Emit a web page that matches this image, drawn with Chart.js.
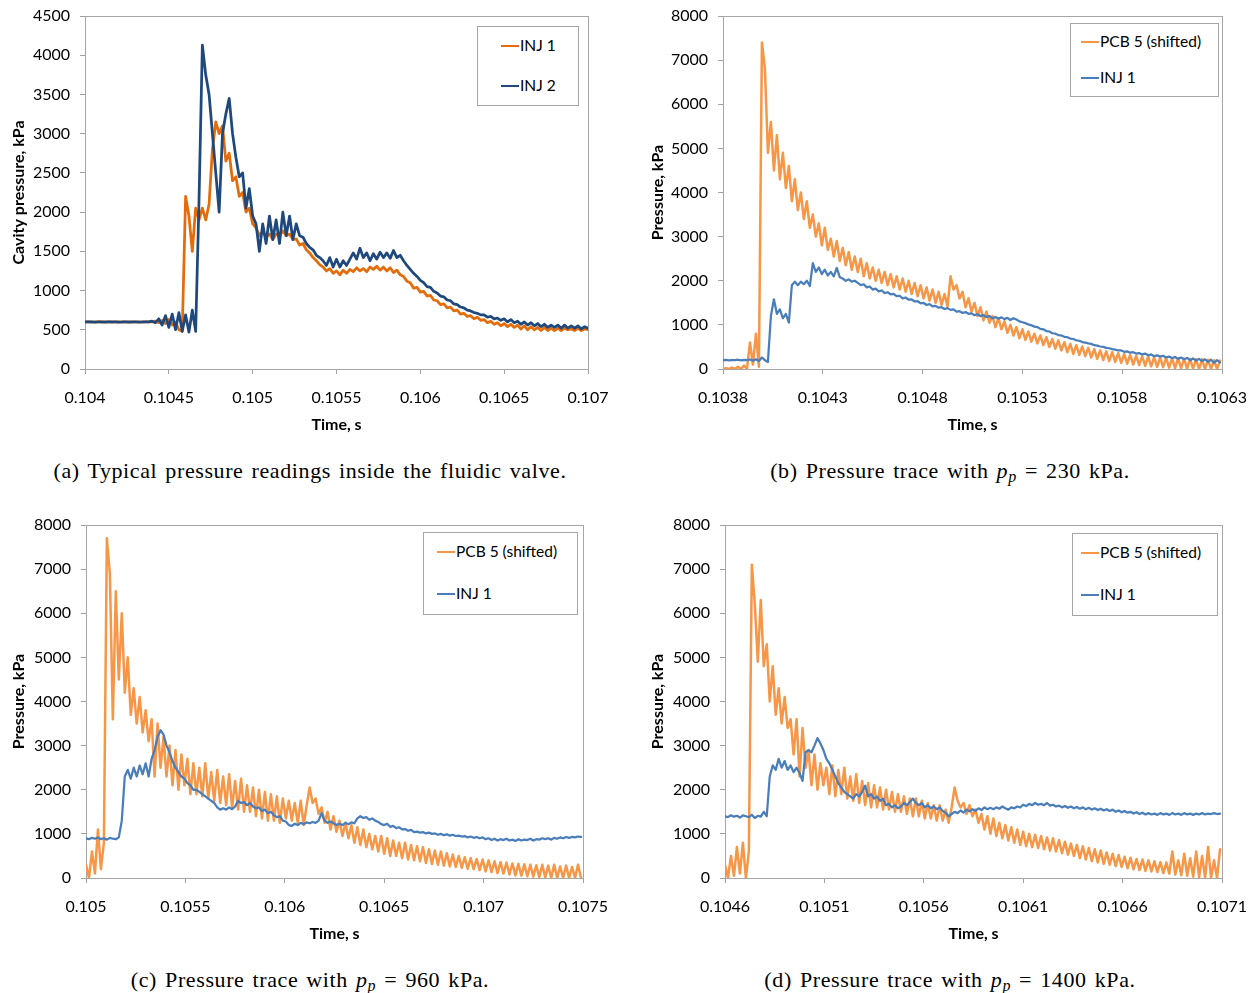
<!DOCTYPE html>
<html>
<head>
<meta charset="utf-8">
<script src="https://cdn.jsdelivr.net/npm/chart.js@4/dist/chart.umd.min.js"></script>
<style>
  html, body { margin: 0; padding: 0; background: #fff; }
  body { width: 1249px; height: 993px; position: relative; overflow: hidden; font-family: Lato, sans-serif; }
  canvas { position: absolute; }
  .legend { position: absolute; border: 1px solid #a6a6a6; background: #fff; box-sizing: border-box; }
  .item { position: absolute; font: 15.5px Lato, sans-serif; color: #000; white-space: nowrap; line-height: 18px; }
  .item span { display: inline-block; width: 18px; height: 2px; vertical-align: middle; margin-right: 1px; position: relative; top: -1px; }
  .caption { position: absolute; font-family: "Liberation Serif", serif; font-size: 22px; letter-spacing: 0.6px; word-spacing: 2px; color: #000; white-space: nowrap; transform: translateX(-50%); }
  .caption sub { font-size: 16px; vertical-align: -4px; line-height: 0; }
</style>
</head>
<body>
<canvas id="cA" width="620" height="440" style="left:0;top:0"></canvas>
<canvas id="cB" width="629" height="440" style="left:620px;top:0"></canvas>
<canvas id="cC" width="620" height="440" style="left:0;top:509px"></canvas>
<canvas id="cD" width="629" height="440" style="left:620px;top:509px"></canvas>

<div class="legend" style="left:477px;top:26px;width:102px;height:80px"></div>
<div class="item" style="left:501px;top:36px"><span style="background:#E46C0A"></span>INJ 1</div>
<div class="item" style="left:501px;top:76px"><span style="background:#1F497D"></span>INJ 2</div>

<div class="legend" style="left:1070px;top:23px;width:149px;height:74px"></div>
<div class="item" style="left:1081px;top:32px"><span style="background:#F79646"></span>PCB 5 (shifted)</div>
<div class="item" style="left:1081px;top:68px"><span style="background:#4A7EBB"></span>INJ 1</div>

<div class="legend" style="left:423px;top:532px;width:155px;height:83px"></div>
<div class="item" style="left:437px;top:542px"><span style="background:#F79646"></span>PCB 5 (shifted)</div>
<div class="item" style="left:437px;top:584px"><span style="background:#4A7EBB"></span>INJ 1</div>

<div class="legend" style="left:1072px;top:533px;width:146px;height:83px"></div>
<div class="item" style="left:1081px;top:543px"><span style="background:#F79646"></span>PCB 5 (shifted)</div>
<div class="item" style="left:1081px;top:585px"><span style="background:#4A7EBB"></span>INJ 1</div>

<div class="caption" style="left:310px;top:458px">(a) Typical pressure readings inside the fluidic valve.</div>
<div class="caption" style="left:950px;top:458px">(b) Pressure trace with <i>p</i><sub><i>p</i></sub> = 230 kPa.</div>
<div class="caption" style="left:310px;top:967px">(c) Pressure trace with <i>p</i><sub><i>p</i></sub> = 960 kPa.</div>
<div class="caption" style="left:950px;top:967px">(d) Pressure trace with <i>p</i><sub><i>p</i></sub> = 1400 kPa.</div>

<script>
// ---- (a) cavity pressure, sampled every 20 µs from t = 0.104 s ----
const A_T0 = 0.104, A_DT = 0.00002;
const A_INJ1 = [
  600,602,598,600,603,597,600,601,599,600,
  602,598,600,601,599,600,602,598,600,600,
  600,610,590,620,580,630,560,600,500,480,
  2200,1950,1500,2050,1900,2050,1900,2100,2800,3150,
  3000,3100,2650,2750,2400,2450,2200,2250,2000,2050,
  1850,1800,1700,1750,1680,1720,1650,1720,1700,1760,
  1700,1720,1650,1660,1580,1600,1520,1480,1420,1380,
  1330,1300,1250,1280,1220,1250,1200,1260,1220,1270,
  1240,1290,1250,1280,1240,1300,1270,1310,1260,1300,
  1250,1290,1230,1260,1200,1180,1120,1100,1030,1040,
  980,990,930,940,880,870,820,830,780,790,
  740,750,700,710,670,680,640,660,620,630,
  590,610,570,590,550,580,540,570,530,560,
  510,550,500,540,500,530,490,530,490,520,
  490,520,490,520,500,510,490,520,490,510,
  500
];
const A_INJ2 = [
  600,600,601,599,600,602,598,600,600,601,
  599,600,602,598,600,601,599,600,602,600,
  610,590,640,560,680,530,700,500,720,480,
  690,470,750,480,2150,4130,3750,3500,3000,2500,
  2000,3000,3250,3450,3000,2700,2450,2500,2050,2300,
  1950,1850,1500,1850,1600,1950,1650,1900,1600,2000,
  1700,1950,1650,1850,1700,1680,1600,1550,1520,1450,
  1420,1380,1320,1420,1300,1400,1300,1380,1320,1400,
  1480,1400,1540,1420,1480,1380,1470,1400,1490,1420,
  1480,1410,1510,1420,1450,1380,1320,1270,1220,1180,
  1130,1100,1050,1040,990,970,930,920,880,870,
  830,820,790,780,750,740,720,710,690,690,
  660,670,640,650,620,640,600,630,590,610,
  570,600,560,590,550,580,540,570,530,560,
  530,560,520,560,520,550,520,550,510,540,
  520
];
const A_X_TICKS = [0.104, 0.1045, 0.105, 0.1055, 0.106, 0.1065, 0.107];
const A_X_LABELS = ['0.104', '0.1045', '0.105', '0.1055', '0.106', '0.1065', '0.107'];
const A_Y_TICKS = [0, 500, 1000, 1500, 2000, 2500, 3000, 3500, 4000, 4500];

// ---- (b) pp = 230 kPa, sampled every 15 µs from t = 0.1038 s ----
const B_T0 = 0.1038, B_DT = 0.000015;
const B_PCB5 = [
  0,20,0,30,0,50,0,80,0,600,
  100,800,50,7400,6800,4900,5600,4500,5300,4300,
  4900,4100,4600,3800,4300,3600,4000,3400,3800,3200,
  3500,3000,3300,2800,3200,2700,2950,2550,2900,2450,
  2750,2350,2650,2250,2550,2200,2500,2100,2400,2050,
  2300,2000,2250,1950,2200,1900,2150,1850,2100,1800,
  2050,1750,2000,1700,1950,1650,1900,1600,1850,1550,
  1800,1500,1750,1450,1700,1420,2100,1800,1900,1600,
  1750,1400,1600,1300,1500,1200,1400,1100,1300,1050,
  1200,950,1150,900,1080,820,1000,760,950,700,
  900,660,850,620,800,580,760,540,720,500,
  680,460,650,420,610,380,570,340,540,320,
  510,290,480,260,450,230,420,200,400,180,
  380,160,360,140,340,120,320,100,300,90,
  290,70,280,60,270,50,260,40,250,30,
  240,20,240,20,230,10,230,10,220,0,
  220,0,210,0,200,0,190
];
const B_INJ1 = [
  200,205,198,202,200,210,195,205,200,215,
  190,220,180,260,200,160,1200,1580,1250,1350,
  1150,1250,1050,1900,1980,1900,1980,1920,2000,1880,
  2400,2200,2300,2150,2250,2120,2200,2100,2290,2080,
  2050,2000,2030,1980,2000,1950,1900,1920,1850,1870,
  1800,1820,1760,1780,1720,1740,1690,1700,1650,1660,
  1600,1620,1570,1580,1530,1540,1490,1500,1450,1470,
  1420,1430,1390,1400,1360,1380,1340,1350,1300,1310,
  1270,1290,1250,1260,1220,1240,1200,1220,1180,1200,
  1150,1180,1140,1170,1130,1160,1110,1150,1120,1080,
  1060,1040,1010,990,960,950,910,900,860,850,
  810,800,770,760,730,720,690,680,650,640,
  610,600,580,570,540,530,510,500,480,470,
  450,440,420,420,390,400,370,380,350,360,
  330,350,310,330,290,310,280,300,260,280,
  250,270,230,260,220,250,200,240,190,230,
  180,220,160,210,140,200,150
];
const B_X_TICKS = [0.1038, 0.1043, 0.1048, 0.1053, 0.1058, 0.1063];
const B_X_LABELS = ['0.1038', '0.1043', '0.1048', '0.1053', '0.1058', '0.1063'];

// ---- (c) pp = 960 kPa, sampled every 15 µs from t = 0.105 s ----
const C_T0 = 0.105, C_DT = 0.000015;
const C_PCB5 = [
  300,0,600,100,1100,200,800,7700,6900,3600,
  6500,4500,6000,4200,5000,3700,4300,3500,4100,3300,
  3800,3100,3600,2300,3500,2500,3200,2300,3000,2100,
  2900,2000,2800,2100,2700,1900,2600,1900,2500,1850,
  2600,1800,2400,1750,2450,1700,2300,1650,2350,1600,
  2200,1550,2250,1500,2100,1500,2050,1400,2000,1350,
  1950,1300,1900,1300,1850,1250,1800,1350,1750,1300,
  1700,1250,1750,1200,1650,2050,1700,1800,1450,1600,
  1250,1500,1100,1400,1050,1300,950,1250,900,1200,
  800,1150,750,1100,700,1000,650,950,600,950,
  550,900,500,850,500,800,450,800,420,750,
  400,720,380,700,340,650,320,620,300,600,
  280,560,260,530,250,500,230,470,210,450,
  200,430,180,420,150,400,130,380,110,360,
  100,350,80,330,60,320,50,310,40,300,
  30,290,20,300,10,280,0,300,0,260,
  0,280,0,250,0,300,0
];
const C_INJ1 = [
  900,880,910,890,920,880,900,870,910,890,
  880,920,1300,2300,2450,2250,2500,2300,2550,2350,
  2600,2300,2700,2900,3200,3350,3250,3000,2850,2650,
  2500,2400,2300,2250,2150,2100,2000,2000,1950,1900,
  1850,1800,1750,1700,1600,1550,1580,1550,1600,1560,
  1620,1750,1700,1720,1650,1700,1620,1580,1600,1520,
  1550,1470,1500,1420,1380,1400,1300,1280,1200,1180,
  1230,1200,1250,1220,1260,1240,1270,1250,1300,1470,
  1300,1250,1280,1240,1200,1230,1200,1250,1220,1260,
  1240,1350,1400,1360,1380,1320,1350,1300,1270,1220,
  1200,1230,1160,1180,1130,1150,1100,1110,1070,1090,
  1040,1050,1030,1040,1010,1030,1000,1010,980,1000,
  970,990,960,980,950,960,940,950,920,940,
  910,930,900,920,880,900,860,890,850,880,
  860,890,850,870,840,880,850,870,860,890,
  850,880,870,900,880,900,870,910,890,920,
  900,930,910,930,920,940,930
];
const C_X_TICKS = [0.105, 0.1055, 0.106, 0.1065, 0.107, 0.1075];
const C_X_LABELS = ['0.105', '0.1055', '0.106', '0.1065', '0.107', '0.1075'];

// ---- (d) pp = 1400 kPa, sampled every 15 µs from t = 0.1046 s ----
const D_T0 = 0.1046, D_DT = 0.000015;
const D_PCB5 = [
  300,0,500,50,700,100,800,0,600,7100,
  6200,4900,6300,4800,5300,4000,4800,3700,4300,3500,
  4100,3400,3600,2800,3600,2300,3400,2500,2900,2100,
  2800,2000,2600,2100,2500,1900,2550,1850,2450,1900,
  2500,1800,2300,1750,2350,1700,2200,1650,2150,1600,
  2100,1600,2050,1550,2000,1550,1950,1500,1900,1500,
  1850,1450,1800,1400,1800,1400,1750,1350,1700,1350,
  1650,1300,1650,1300,1550,1250,1600,2050,1750,1600,
  1700,1450,1650,1400,1550,1250,1450,1100,1400,1000,
  1350,950,1250,900,1200,850,1150,800,1100,750,
  1050,720,1000,700,980,680,950,650,920,620,
  900,600,860,560,820,530,780,500,750,450,
  720,420,680,380,650,350,620,320,580,300,
  550,270,520,250,480,220,460,200,430,180,
  420,160,400,150,380,130,360,110,350,100,
  600,80,400,60,550,50,450,30,600,20,
  500,0,700,0,400,0,650
];
const D_INJ1 = [
  1400,1380,1420,1390,1410,1370,1420,1400,1380,1430,
  1360,1410,1390,1500,1400,2300,2550,2450,2700,2500,
  2650,2450,2550,2400,2500,2380,2200,2850,2900,2850,
  3000,3170,3050,2900,2700,2600,2450,2300,2150,2050,
  1950,1900,1850,1800,1900,1850,1950,2090,1850,1900,
  1800,1850,1750,1800,1650,1680,1600,1650,1580,1620,
  1700,1650,1720,1800,1700,1650,1700,1600,1650,1580,
  1620,1560,1600,1520,1480,1400,1450,1500,1470,1530,
  1480,1550,1510,1560,1520,1580,1540,1600,1560,1590,
  1560,1600,1570,1620,1580,1550,1600,1580,1620,1600,
  1660,1630,1680,1650,1700,1660,1680,1650,1700,1640,
  1660,1620,1640,1600,1630,1590,1620,1580,1610,1570,
  1600,1560,1590,1550,1580,1540,1570,1530,1560,1520,
  1550,1500,1530,1490,1520,1480,1500,1460,1490,1450,
  1480,1440,1470,1440,1460,1430,1470,1440,1460,1430,
  1470,1440,1460,1430,1470,1440,1460,1430,1460,1440,
  1470,1440,1460,1450,1470,1450,1460
];
const D_X_TICKS = [0.1046, 0.1051, 0.1056, 0.1061, 0.1066, 0.1071];
const D_X_LABELS = ['0.1046', '0.1051', '0.1056', '0.1061', '0.1066', '0.1071'];

const P_Y_TICKS = [0, 1000, 2000, 3000, 4000, 5000, 6000, 7000, 8000];

// Gray frame around the plot area, as in a spreadsheet chart.
const plotFrame = {
  id: 'plotFrame',
  beforeDatasetsDraw(chart) {
    const { ctx, chartArea: a } = chart;
    ctx.save();
    ctx.strokeStyle = '#a6a6a6';
    ctx.lineWidth = 1;
    ctx.strokeRect(Math.round(a.left) + 0.5, Math.round(a.top) + 0.5,
                   Math.round(a.right - a.left), Math.round(a.bottom - a.top));
    ctx.restore();
  }
};

const AXIS_GRAY = '#a0a0a0';
const tickFont = { family: 'Lato', size: 16 };
const titleFont = { family: 'Lato', size: 16, weight: 'bold' };

function samples(t0, dt, values) {
  return values.map((v, i) => ({ x: t0 + i * dt, y: v }));
}

// Scales keep their fixed box; labels may overhang into the margins.
function noOverhang(s) {
  s.paddingTop = 0; s.paddingBottom = 0; s.paddingLeft = 0; s.paddingRight = 0;
}

function panel(id, cfg) {
  const a = cfg.area;
  const canvas = document.getElementById(id);
  const w = canvas.width, h = canvas.height;
  return new Chart(canvas, {
    type: 'line',
    data: {
      datasets: cfg.series.map(s => ({
        label: s.label,
        data: samples(cfg.t0, cfg.dt, s.values),
        borderColor: s.color,
        borderWidth: s.width,
        order: s.order,
        pointRadius: 0,
        fill: false,
        tension: 0
      }))
    },
    options: {
      responsive: false,
      animation: false,
      devicePixelRatio: 1,
      events: [],
      layout: { autoPadding: false, padding: { top: a.t, right: w - a.r, left: 0, bottom: 0 } },
      plugins: { legend: { display: false }, tooltip: { enabled: false } },
      elements: { line: { borderJoinStyle: 'round', borderCapStyle: 'round' } },
      scales: {
        x: {
          type: 'linear',
          min: cfg.xTicks[0],
          max: cfg.xTicks[cfg.xTicks.length - 1],
          afterBuildTicks: s => { s.ticks = cfg.xTicks.map(v => ({ value: v })); },
          afterFit: s => { s.height = h - a.b; noOverhang(s); },
          ticks: {
            autoSkip: false, maxRotation: 0, padding: 14, color: '#000', font: tickFont,
            callback: (v, i) => cfg.xLabels[i]
          },
          grid: { display: true, drawOnChartArea: false, drawTicks: true, tickLength: 5, color: AXIS_GRAY },
          border: { display: true, color: AXIS_GRAY },
          title: { display: true, text: 'Time, s', color: '#000', font: titleFont, padding: { top: 0, bottom: 5.4 } }
        },
        y: {
          min: 0,
          max: cfg.yTicks[cfg.yTicks.length - 1],
          afterBuildTicks: s => { s.ticks = cfg.yTicks.map(v => ({ value: v })); },
          afterFit: s => { s.width = a.l; noOverhang(s); },
          ticks: { padding: 10, color: '#000', font: tickFont, callback: v => String(v) },
          grid: { display: true, drawOnChartArea: false, drawTicks: true, tickLength: 5, color: AXIS_GRAY },
          border: { display: true, color: AXIS_GRAY },
          title: { display: true, text: cfg.yTitle, color: '#000', font: titleFont, padding: { top: cfg.yTitlePad, bottom: 0 } }
        }
      }
    },
    plugins: [plotFrame]
  });
}

panel('cA', {
  area: { l: 85, r: 588, t: 16, b: 369 },
  t0: A_T0, dt: A_DT, xTicks: A_X_TICKS, xLabels: A_X_LABELS, yTicks: A_Y_TICKS,
  yTitle: 'Cavity pressure, kPa', yTitlePad: 9.4,
  series: [
    { label: 'INJ 1', values: A_INJ1, color: '#E46C0A', width: 2.75, order: 1 },
    { label: 'INJ 2', values: A_INJ2, color: '#1F497D', width: 2.75, order: 0 }
  ]
});

panel('cB', {
  area: { l: 103, r: 602, t: 16, b: 369 },
  t0: B_T0, dt: B_DT, xTicks: B_X_TICKS, xLabels: B_X_LABELS, yTicks: P_Y_TICKS,
  yTitle: 'Pressure, kPa', yTitlePad: 28.4,
  series: [
    { label: 'PCB 5 (shifted)', values: B_PCB5, color: '#F79646', width: 2.5, order: 1 },
    { label: 'INJ 1', values: B_INJ1, color: '#4A7EBB', width: 2.25, order: 0 }
  ]
});

panel('cC', {
  area: { l: 86, r: 583, t: 16, b: 369 },
  t0: C_T0, dt: C_DT, xTicks: C_X_TICKS, xLabels: C_X_LABELS, yTicks: P_Y_TICKS,
  yTitle: 'Pressure, kPa', yTitlePad: 9.4,
  series: [
    { label: 'PCB 5 (shifted)', values: C_PCB5, color: '#F79646', width: 2.5, order: 1 },
    { label: 'INJ 1', values: C_INJ1, color: '#4A7EBB', width: 2.25, order: 0 }
  ]
});

panel('cD', {
  area: { l: 105, r: 602, t: 16, b: 369 },
  t0: D_T0, dt: D_DT, xTicks: D_X_TICKS, xLabels: D_X_LABELS, yTicks: P_Y_TICKS,
  yTitle: 'Pressure, kPa', yTitlePad: 28.4,
  series: [
    { label: 'PCB 5 (shifted)', values: D_PCB5, color: '#F79646', width: 2.5, order: 1 },
    { label: 'INJ 1', values: D_INJ1, color: '#4A7EBB', width: 2.25, order: 0 }
  ]
});
</script>
</body>
</html>
